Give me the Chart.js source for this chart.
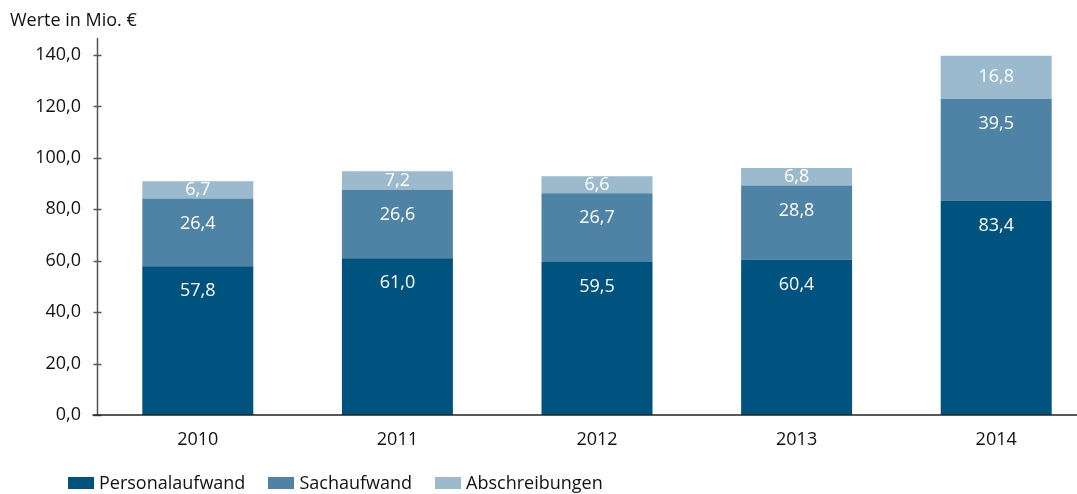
<!DOCTYPE html>
<html>
<head>
<meta charset="utf-8">
<script src="https://cdn.jsdelivr.net/npm/chart.js@4"></script>
<style>
  html, body { margin: 0; padding: 0; background: #fff; overflow: hidden; width: 1077px; height: 494px; }
  #wrap { position: absolute; left: 0; top: 0; width: 1096px; height: 494px; }
  #title { position: absolute; left: 10px; top: 7px; font: 18px "Open Sans", sans-serif; color: #111; white-space: nowrap; }
  #legend { position: absolute; left: 68px; top: 470px; font: 18px "Open Sans", sans-serif; color: #111; white-space: nowrap; }
  #legend span.item { display: inline-block; margin-right: 23px; }
  #legend span.box { display: inline-block; width: 26px; height: 12px; margin-right: 5px; vertical-align: 0px; }
</style>
</head>
<body>
<div id="wrap"><canvas id="c" width="1096" height="494"></canvas></div>
<div id="title">Werte in Mio. €</div>
<div id="legend"></div>
<script>
const categories = ["2010", "2011", "2012", "2013", "2014"];
const personalaufwand = [57.8, 61.0, 59.5, 60.4, 83.4];
const sachaufwand = [26.4, 26.6, 26.7, 28.8, 39.5];
const abschreibungen = [6.7, 7.2, 6.6, 6.8, 16.8];
const seriesNames = ["Personalaufwand", "Sachaufwand", "Abschreibungen"];
const yTicks = [0, 20, 40, 60, 80, 100, 120, 140];
const colors = ["#00527f", "#4f83a6", "#9bbacd"];
const FONT = '"Open Sans", sans-serif';

const fmt = v => v.toFixed(1).replace('.', ',');

const labelPlugin = {
  id: 'segLabels',
  afterDatasetsDraw(chart) {
    const ctx = chart.ctx;
    ctx.save();
    ctx.fillStyle = '#ffffff';
    ctx.font = '18px ' + FONT;
    ctx.textAlign = 'center';
    ctx.textBaseline = 'middle';
    chart.data.datasets.forEach((ds, di) => {
      const meta = chart.getDatasetMeta(di);
      meta.data.forEach((bar, i) => {
        const top = Math.min(bar.y, bar.base);
        const h = Math.abs(bar.base - bar.y);
        const y = top + Math.min(h / 2, 25);
        ctx.fillText(fmt(ds.data[i]), bar.x, y);
      });
    });
    ctx.restore();
  }
};

const axisPlugin = {
  id: 'axisMarks',
  afterDraw(chart) {
    const ctx = chart.ctx;
    const ys = chart.scales.y;
    const area = chart.chartArea;
    const ax = Math.round(area.left) - 0.5;
    ctx.save();
    ctx.strokeStyle = '#555';
    ctx.lineWidth = 1.5;
    ctx.beginPath();
    ctx.moveTo(ax, area.top);
    ctx.lineTo(ax, ys.getPixelForValue(0));
    ctx.stroke();
    yTicks.forEach(t => {
      const py = Math.round(ys.getPixelForValue(t)) + 0.5;
      ctx.beginPath();
      ctx.moveTo(ax - 4, py);
      ctx.lineTo(ax + 4, py);
      ctx.stroke();
    });
    const y0 = ys.getPixelForValue(0);
    ctx.strokeStyle = '#222';
    ctx.lineWidth = 1.5;
    ctx.beginPath();
    ctx.moveTo(ax - 5, y0);
    ctx.lineTo(chart.width, y0);
    ctx.stroke();
    ctx.restore();
  }
};

const datasets = [personalaufwand, sachaufwand, abschreibungen].map((d, i) => ({
  label: seriesNames[i],
  data: d,
  backgroundColor: colors[i],
  borderWidth: 0,
  barPercentage: 0.556,
  categoryPercentage: 1.0
}));

new Chart(document.getElementById('c'), {
  type: 'bar',
  data: { labels: categories, datasets },
  plugins: [labelPlugin, axisPlugin],
  options: {
    responsive: false,
    animation: false,
    layout: { padding: { top: 38, right: 0, left: 0, bottom: 0 } },
    plugins: { legend: { display: false }, tooltip: { enabled: false }, title: { display: false } },
    scales: {
      x: {
        stacked: true,
        grid: { display: false, drawTicks: false },
        border: { display: false },
        ticks: { color: '#111', font: { family: FONT, size: 18 }, padding: 14 },
        afterFit(s) { s.height = 79; }
      },
      y: {
        stacked: true,
        min: 0,
        max: 146.6,
        afterBuildTicks(s) { s.ticks = yTicks.map(v => ({ value: v })); },
        grid: { display: false, drawTicks: false },
        border: { display: false },
        ticks: {
          color: '#111', font: { family: FONT, size: 18 }, padding: 17,
          callback: v => fmt(v)
        },
        afterFit(s) { s.width = 98; }
      }
    }
  }
});

const legend = document.getElementById('legend');
seriesNames.forEach((n, i) => {
  const item = document.createElement('span');
  item.className = 'item';
  const box = document.createElement('span');
  box.className = 'box';
  box.style.background = colors[i];
  item.appendChild(box);
  item.appendChild(document.createTextNode(n));
  legend.appendChild(item);
});
</script>
</body>
</html>
